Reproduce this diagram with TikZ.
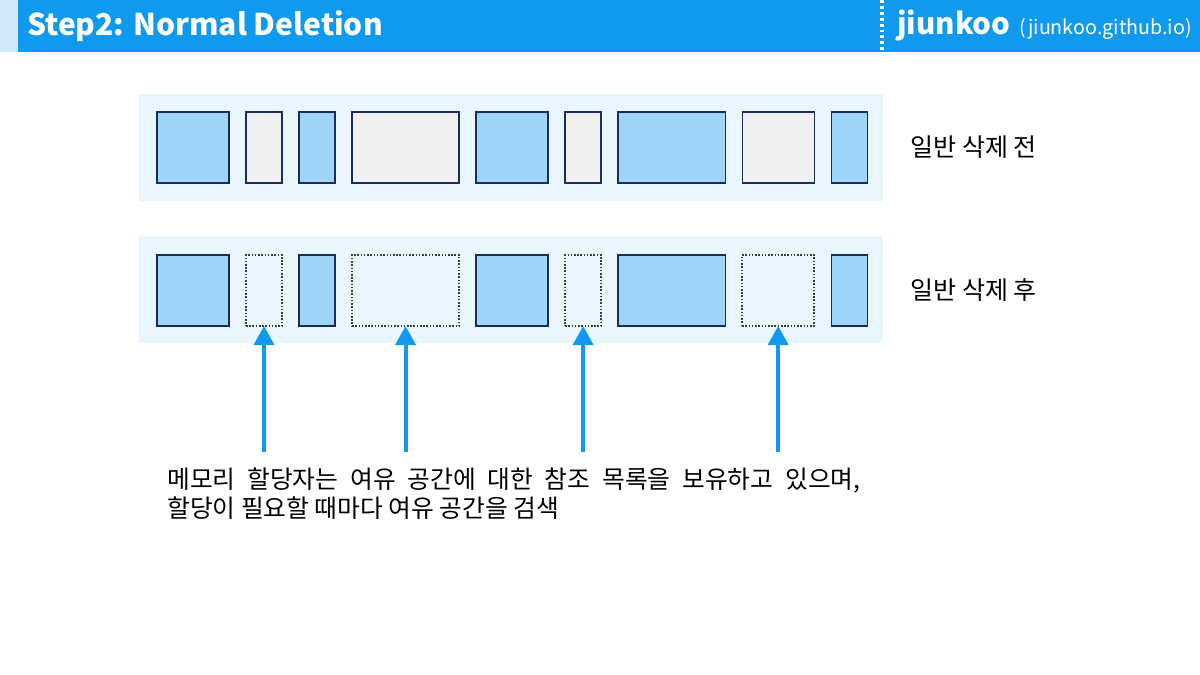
\documentclass[tikz,border=0pt]{standalone}
\usepackage{fontspec}
\setmainfont{Noto Sans CJK KR}
\usetikzlibrary{arrows.meta,positioning}

\definecolor{barblue}{HTML}{0F9AF0}
\definecolor{barpale}{HTML}{D2E9FB}
\definecolor{rowbg}{HTML}{EAF6FD}
\definecolor{usedblue}{HTML}{9DD4F7}
\definecolor{freegray}{HTML}{F0F0F0}
\definecolor{edgenavy}{HTML}{1B2D55}
\definecolor{dotgray}{HTML}{3A3A3A}

\tikzset{
  block/.style={draw=edgenavy,line width=0.9pt,inner sep=0pt,outer sep=0pt,minimum height=1.775cm},
  used/.style={block,fill=usedblue},
  kept/.style={block,fill=freegray},
  hole/.style={block,draw=dotgray,line width=1.1pt,dash pattern=on 1.1pt off 1.2pt,fill=rowbg},
  wide/.style={minimum width=1.8cm},
  thin/.style={minimum width=0.9cm},
  long/.style={minimum width=2.675cm},
  pointer/.style={draw=barblue,line width=2.8pt,-{Triangle[length=13.5pt,width=14.2pt]}},
  tag/.style={anchor=west,inner sep=0pt,font=\fontsize{17.8}{21}\selectfont}
}

\begin{document}
\begin{tikzpicture}[x=0.025cm,y=-0.025cm,node distance=0.425cm]
  \useasboundingbox (0,0) rectangle (1200,675);

  % header
  \fill[barpale] (0,0) rectangle (18,52);
  \fill[barblue] (18,0) rectangle (1200,52);
  \draw[white,line width=2.2pt,dash pattern=on 2.1pt off 2.1pt] (882,0) -- (882,52);
  \node[anchor=base west,inner sep=0pt,text=white,font=\fontsize{21.3}{25}\selectfont\bfseries] (title) at (27,36) {Step2: Normal Deletion};
  \node[anchor=base west,inner sep=0pt,text=white,font=\fontsize{21}{25}\selectfont\bfseries] (brand) at (897,35) {jiunkoo};
  \node[anchor=base west,inner sep=0pt,text=white,font=\fontsize{14}{18}\selectfont] (site) at ([xshift=0.22cm]brand.base east) {(jiunkoo.github.io)};

  % rows
  \fill[rowbg] (139,94) rectangle (883,201);
  \fill[rowbg] (139,236) rectangle (883,343);

  \node[used,wide] (a1) at (193,147.5) {};
  \node[kept,thin] (a2) [right=of a1] {};
  \node[used,thin] (a3) [right=of a2] {};
  \node[kept,long] (a4) [right=of a3] {};
  \node[used,wide] (a5) [right=of a4] {};
  \node[kept,thin] (a6) [right=of a5] {};
  \node[used,long] (a7) [right=of a6] {};
  \node[kept,wide] (a8) [right=of a7] {};
  \node[used,thin] (a9) [right=of a8] {};

  \node[used,wide] (b1) [below=1.8cm of a1] {};
  \node[hole,thin] (b2) [right=of b1] {};
  \node[used,thin] (b3) [right=of b2] {};
  \node[hole,long] (b4) [right=of b3] {};
  \node[used,wide] (b5) [right=of b4] {};
  \node[hole,thin] (b6) [right=of b5] {};
  \node[used,long] (b7) [right=of b6] {};
  \node[hole,wide] (b8) [right=of b7] {};
  \node[used,thin] (b9) [right=of b8] {};

  \node[tag] (before) [right=1.075cm of a9] {일반 삭제 전};
  \node[tag] (after)  [right=1.075cm of b9] {일반 삭제 후};

  % pointers to the freed blocks
  \coordinate (low) at (0,452);
  \draw[pointer] (b2.south |- low) -- (b2.south);
  \draw[pointer] (b4.south |- low) -- (b4.south);
  \draw[pointer] (b6.south |- low) -- (b6.south);
  \draw[pointer] (b8.south |- low) -- (b8.south);

  \node[anchor=base west,inner sep=0pt,text width=17.325cm,align=justify,font=\fontsize{17.6}{21.3}\selectfont] (note) at (167,488)
    {메모리 할당자는 여유 공간에 대한 참조 목록을 보유하고 있으며,\linebreak 할당이 필요할 때마다 여유 공간을 검색};
\end{tikzpicture}
\end{document}
